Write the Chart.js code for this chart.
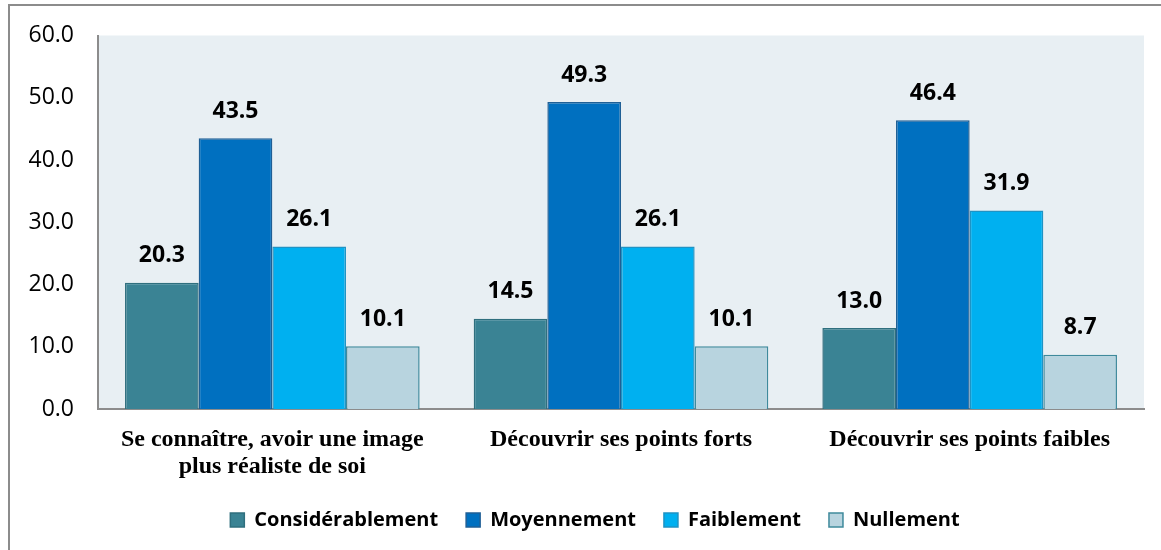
<!DOCTYPE html>
<html lang="fr">
<head>
  <meta charset="UTF-8" />
  <title>Apport</title>
  <style>
    *{box-sizing:border-box}
    body{margin:0;background:#fff;width:1161px;height:550px;overflow:hidden;position:relative}
    .frame{position:absolute;left:8px;top:4px;width:1200px;height:600px;border:2px solid #8c8c8c}
    .wrap{position:absolute;left:0;top:0;width:1161px;height:550px}
  </style>
</head>
<body>
  <div class="frame"></div>
  <div class="wrap"><canvas id="c"></canvas></div>
  <script src="https://cdn.jsdelivr.net/npm/chart.js"></script>
  <script>
    const categories = [['Se connaître, avoir une image', 'plus réaliste de soi'], 'Découvrir ses points forts', 'Découvrir ses points faibles'];
    const seriesNames = ['Considérablement', 'Moyennement', 'Faiblement', 'Nullement'];
    const considerablement = [20.3, 14.5, 13.0];
    const moyennement = [43.5, 49.3, 46.4];
    const faiblement = [26.1, 26.1, 31.9];
    const nullement = [10.1, 10.1, 8.7];
    const fills = ['#3a8394', '#0070c0', '#00b0f0', '#b8d4df'];
    const edges = ['#2f6f7e', '#1f5f95', '#1f93c4', '#3f8a9c'];

    const values = [considerablement, moyennement, faiblement, nullement];
    const sans = '"Open Sans", Lato, sans-serif';

    const plotBg = {
      id: 'plotBg',
      beforeDraw(chart) {
        const { ctx, chartArea: a } = chart;
        ctx.save();
        ctx.fillStyle = '#e8eff3';
        ctx.fillRect(a.left, a.top, a.right - a.left, a.bottom - a.top);
        ctx.restore();
      }
    };

    // nudge the legend a bit to the right, the original isn't centred on the canvas
    const legendShift = {
      id: 'legendShift',
      afterLayout(chart) {
        if (!chart.legend) return;
        chart.legend.left += 18;
        chart.legend.right += 18;
      }
    };

    const barLabels = {
      id: 'barLabels',
      afterDatasetsDraw(chart) {
        const { ctx } = chart;
        ctx.save();
        ctx.font = 'bold 23px ' + sans;
        ctx.fillStyle = '#000';
        ctx.textAlign = 'center';
        ctx.textBaseline = 'middle';
        chart.data.datasets.forEach((ds, i) => {
          chart.getDatasetMeta(i).data.forEach((bar, j) => {
            ctx.fillText(ds.data[j].toFixed(1), bar.x, bar.y - 27);
          });
        });
        ctx.restore();
      }
    };

    new Chart(document.getElementById('c'), {
      type: 'bar',
      data: {
        labels: categories,
        datasets: seriesNames.map((n, i) => ({
          label: n,
          data: values[i],
          backgroundColor: fills[i],
          borderColor: edges[i],
          borderWidth: 1.5,
          categoryPercentage: 0.845,
          barPercentage: 1
        }))
      },
      options: {
        responsive: true,
        maintainAspectRatio: false,
        animation: false,
        layout: { padding: { left: 10, right: 17, top: 16, bottom: 10 } },
        scales: {
          y: {
            min: 0, max: 60,
            ticks: { stepSize: 10, color: '#000', padding: 24, font: { family: sans, size: 23, lineHeight: 1 }, callback: v => v.toFixed(1) },
            grid: { display: false, drawTicks: false },
            border: { color: '#8c8c8c', width: 2 },
            afterFit: s => { s.width = 88; }
          },
          x: {
            ticks: { color: '#000', padding: 18, font: { family: '"Liberation Serif", serif', size: 24, weight: 'bold', lineHeight: 1.1 } },
            grid: { display: false, drawTicks: false },
            border: { color: '#8c8c8c', width: 2 },
            afterFit: s => { s.height = 73; }
          }
        },
        plugins: {
          legend: {
            position: 'bottom',
            labels: {
              color: '#000',
              boxWidth: 14, boxHeight: 14,
              padding: 28,
              font: { family: sans, size: 20, weight: 'bold' }
            }
          },
          tooltip: { enabled: false }
        }
      },
      plugins: [plotBg, legendShift, barLabels]
    });
  </script>
</body>
</html>
